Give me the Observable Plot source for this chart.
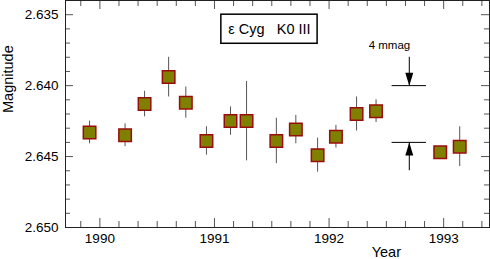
<!DOCTYPE html>
<html>
<head>
<meta charset="utf-8">
<script src="https://cdn.jsdelivr.net/npm/d3@7"></script>
<script src="https://cdn.jsdelivr.net/npm/@observablehq/plot@0.6"></script>
<style>
  html, body { margin: 0; padding: 0; background: #fff; }
  #chart { width: 490px; height: 259px; }
</style>
</head>
<body>
<div id="chart"></div>
<script>
// ---- data ----
const years = [1989.91, 1990.22, 1990.39, 1990.60, 1990.75, 1990.93, 1991.14, 1991.28,
               1991.54, 1991.71, 1991.90, 1992.06, 1992.24, 1992.41, 1992.97, 1993.14];
const mags  = [2.6433, 2.6435, 2.6413, 2.6394, 2.6412, 2.6439, 2.6425, 2.6425,
               2.6439, 2.6431, 2.6449, 2.6436, 2.6420, 2.6418, 2.6447, 2.6443];
const errs  = [0.0008, 0.0008, 0.0009, 0.0014, 0.0011, 0.0010, 0.0010, 0.0028,
               0.0016, 0.0010, 0.0012, 0.0008, 0.0012, 0.0008, 0.0004, 0.0014];

const xTickLabels = [1990, 1991, 1992, 1993];
const yTickLabels = ["2.635", "2.640", "2.645", "2.650"];

const legendText = "ε Cyg\u00a0\u00a0\u00a0K0 III";
const scaleText = "4 mmag";
const scaleLevels = [2.640, 2.644];   // 4 mmag bar
const xTitle = "Year";
const yTitle = "Magnitude";

// ---- derived tables ----
const points = years.map((t, i) => ({t, m: mags[i], lo: mags[i] - errs[i], hi: mags[i] + errs[i]}));
const yMajor = yTickLabels.map(Number);
const xMinor = d3.range(1989 * 6, 1994 * 6 + 1).map(d => d / 6)
  .filter(d => d > 1989.7 && d < 1993.4 && Math.abs(d - Math.round(d)) > 1e-6);
const yMinor = d3.range(2634, 2651).map(d => d / 1000)
  .filter(d => !yMajor.some(v => Math.abs(v - d) < 1e-9));

const W = 490, H = 259;
const mL = 65, mR = 1, mT = 0, mB = 32;
const innerW = W - mL - mR, innerH = H - mT - mB;
const tickCol = "#555";
const font = "'Liberation Sans', Arial, Helvetica, sans-serif";

// custom filled arrowheads (tip at origin)
const headDown = {draw(ctx) { ctx.moveTo(0, 0); ctx.lineTo(-4, -13); ctx.lineTo(4, -13); ctx.closePath(); }};
const headUp   = {draw(ctx) { ctx.moveTo(0, 0); ctx.lineTo(-4, 13); ctx.lineTo(4, 13); ctx.closePath(); }};

const arrowX = 1992.70;

const chart = Plot.plot({
  width: W, height: H,
  marginLeft: mL, marginRight: mR, marginTop: mT, marginBottom: mB,
  style: {fontFamily: font, fontSize: "13.5px", background: "#fff", color: "#000"},
  x: {domain: [1989.7, 1993.4], axis: null},
  y: {domain: [2.634, 2.650], reverse: true, axis: null},
  marks: [
    // ticks (inward)
    Plot.tickX(xTickLabels, {x: d => d, insetTop: innerH - 9, stroke: tickCol}),
    Plot.tickX(xMinor, {x: d => d, insetTop: innerH - 6, stroke: tickCol}),
    Plot.tickX(xTickLabels, {x: d => d, insetBottom: innerH - 9, stroke: tickCol}),
    Plot.tickX(xMinor, {x: d => d, insetBottom: innerH - 6, stroke: tickCol}),
    Plot.tickY(yMajor, {y: d => d, insetRight: innerW - 8, stroke: tickCol}),
    Plot.tickY(yMinor, {y: d => d, insetRight: innerW - 5, stroke: tickCol}),
    Plot.tickY(yMajor, {y: d => d, insetLeft: innerW - 8, stroke: tickCol}),
    Plot.tickY(yMinor, {y: d => d, insetLeft: innerW - 5, stroke: tickCol}),
    // tick labels
    Plot.text(xTickLabels, {x: d => d, frameAnchor: "bottom", dy: 11, lineAnchor: "middle", text: d => String(d), fontSize: 13.5}),
    Plot.text(yTickLabels, {y: d => +d, frameAnchor: "left", dx: -7, textAnchor: "end", lineAnchor: "middle", text: d => d, fontSize: 13.5}),
    // axis titles
    Plot.text([yTitle], {frameAnchor: "left", dx: -57, dy: -1, rotate: -90, text: d => d, lineAnchor: "middle", fontSize: 14.5}),
    Plot.text([xTitle], {x: () => 1992.5, frameAnchor: "bottom", dy: 24.5, text: d => d, lineAnchor: "middle", fontSize: 14.5}),
    // legend box
    Plot.rect([legendText], {x1: () => 1991.06, x2: () => 1991.90, y1: () => 2.6350, y2: () => 2.63705, fill: "#fff", stroke: "#000", strokeWidth: 1.5}),
    Plot.text([legendText], {x: () => 1991.48, y: () => 2.636025, text: d => d, fontSize: 14.5, lineAnchor: "middle"}),
    // 4 mmag scale
    Plot.ruleY(scaleLevels, {y: d => d, x1: () => 1992.55, x2: () => 1992.85, stroke: "#000", strokeWidth: 1}),
    Plot.ruleX([{y1: 2.638, y2: 2.640}, {y1: 2.644, y2: 2.646}], {x: () => arrowX, y1: "y1", y2: "y2", stroke: "#000", strokeWidth: 1}),
    Plot.dot([scaleLevels[0]], {x: () => arrowX, y: d => d, symbol: headDown, fill: "#000", stroke: null}),
    Plot.dot([scaleLevels[1]], {x: () => arrowX, y: d => d, symbol: headUp, fill: "#000", stroke: null}),
    Plot.text([scaleText], {x: () => 1992.527, y: () => 2.63715, text: d => d, fontSize: 11.5, lineAnchor: "middle"}),
    // data
    Plot.ruleX(points, {x: "t", y1: "lo", y2: "hi", stroke: "#555", strokeWidth: 1}),
    Plot.dot(points, {x: "t", y: "m", symbol: "square", r: 7.05, fill: "#808000", stroke: "#9a0c0c", strokeWidth: 1.5}),
    Plot.frame({stroke: "#222", strokeWidth: 1})
  ]
});
document.getElementById("chart").appendChild(chart);
</script>
</body>
</html>
